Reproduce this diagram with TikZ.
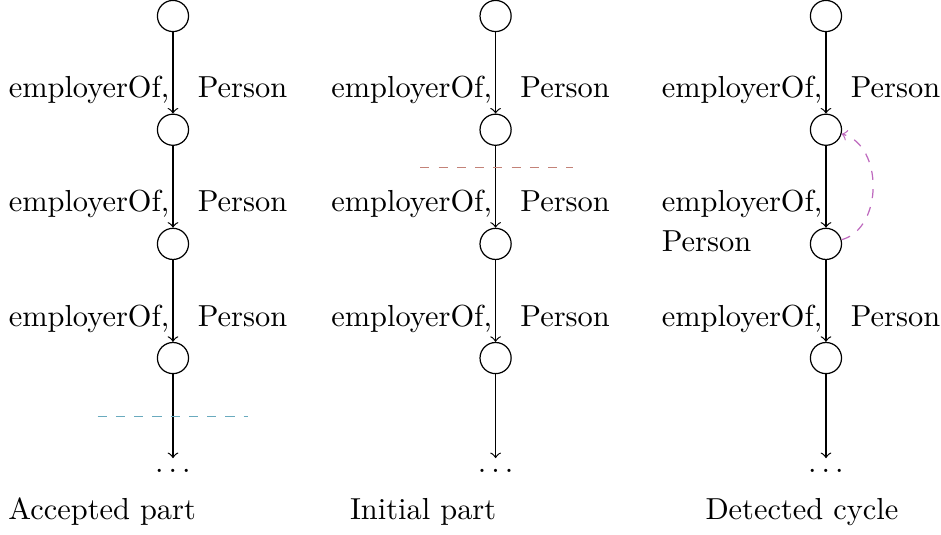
\documentclass[tikz,border=0pt]{standalone}
\usetikzlibrary{positioning}
\definecolor{acceptcut}{RGB}{105,170,190}
\definecolor{initcut}{RGB}{195,130,120}
\definecolor{cycleback}{RGB}{190,105,190}

\begin{document}
\begin{tikzpicture}[inner sep=0pt,
    vertex/.style={draw,circle,minimum size=0.36cm},
    more/.style={inner sep=.333em},
    link/.style={->}]

      % ここまでをバウンディングボックス内とする
      \useasboundingbox (0,0) rectangle (10.88,-6.18);

      % Accepted part
      \node[vertex] (a1) at (2.00,-0.185){};
      \node[vertex] (a2) at (2.00,-1.50){};
      \node[vertex] (a3) at (2.00,-2.82){};
      \node[vertex] (a4) at (2.00,-4.14){};
      \node[more] (a5) at (2.00,-5.44){$\dots$};
      \draw[link] (a1) -- (a2);
      \draw[link] (a2) -- (a3);
      \draw[link] (a3) -- (a4);
      \draw[link] (a4) -- (a5);
      \node[anchor=base east] (a12l) at (1.965,-1.13){employerOf,};
      \node[anchor=base west] (a12r) at (2.28,-1.13){Person};
      \node[anchor=base east] (a23l) at (1.965,-2.45){employerOf,};
      \node[anchor=base west] (a23r) at (2.28,-2.45){Person};
      \node[anchor=base east] (a34l) at (1.965,-3.77){employerOf,};
      \node[anchor=base west] (a34r) at (2.28,-3.77){Person};
      \coordinate (acut1) at (1.13,-4.82);
      \coordinate (acut2) at (2.87,-4.82);
      \draw[acceptcut,dashed] (acut1) -- (acut2);
      \node[anchor=base west] (acap) at (0.09,-6.01){Accepted part};

      % Initial part
      \node[vertex] (b1) at (5.73,-0.185){};
      \node[vertex] (b2) at (5.73,-1.50){};
      \node[vertex] (b3) at (5.73,-2.82){};
      \node[vertex] (b4) at (5.73,-4.14){};
      \node[more] (b5) at (5.73,-5.44){$\dots$};
      \draw[link] (b1) -- (b2);
      \draw[link] (b2) -- (b3);
      \draw[link] (b3) -- (b4);
      \draw[link] (b4) -- (b5);
      \node[anchor=base east] (b12l) at (5.695,-1.13){employerOf,};
      \node[anchor=base west] (b12r) at (6.01,-1.13){Person};
      \node[anchor=base east] (b23l) at (5.695,-2.45){employerOf,};
      \node[anchor=base west] (b23r) at (6.01,-2.45){Person};
      \node[anchor=base east] (b34l) at (5.695,-3.77){employerOf,};
      \node[anchor=base west] (b34r) at (6.01,-3.77){Person};
      \coordinate (bcut1) at (4.86,-1.94);
      \coordinate (bcut2) at (6.62,-1.94);
      \draw[initcut,dashed] (bcut1) -- (bcut2);
      \node[anchor=base west] (bcap) at (4.04,-6.01){Initial part};

      % Detected cycle
      \node[vertex] (c1) at (9.55,-0.185){};
      \node[vertex] (c2) at (9.55,-1.50){};
      \node[vertex] (c3) at (9.55,-2.82){};
      \node[vertex] (c4) at (9.55,-4.14){};
      \node[more] (c5) at (9.55,-5.44){$\dots$};
      \draw[link] (c1) -- (c2);
      \draw[link] (c2) -- (c3);
      \draw[link] (c3) -- (c4);
      \draw[link] (c4) -- (c5);
      \node[anchor=base east] (c12l) at (9.515,-1.13){employerOf,};
      \node[anchor=base west] (c12r) at (9.83,-1.13){Person};
      \node[anchor=base east] (c23l) at (9.515,-2.45){employerOf,};
      \node[anchor=base west] (c23r) at ([yshift=-13pt]c23l.base west){Person};
      \node[anchor=base east] (c34l) at (9.515,-3.77){employerOf,};
      \node[anchor=base west] (c34r) at (9.83,-3.77){Person};
      \draw[cycleback,dashed,->] (c3) to[out=15,in=-15,looseness=1.05] (c2);
      \node[anchor=base west] (ccap) at (8.15,-6.01){Detected cycle};

      % バウンディングボックス確認用
      %\fill[green, opacity=0.2](current bounding box.south west)
      %rectangle (current bounding box.north east);
    \end{tikzpicture}
\end{document}
